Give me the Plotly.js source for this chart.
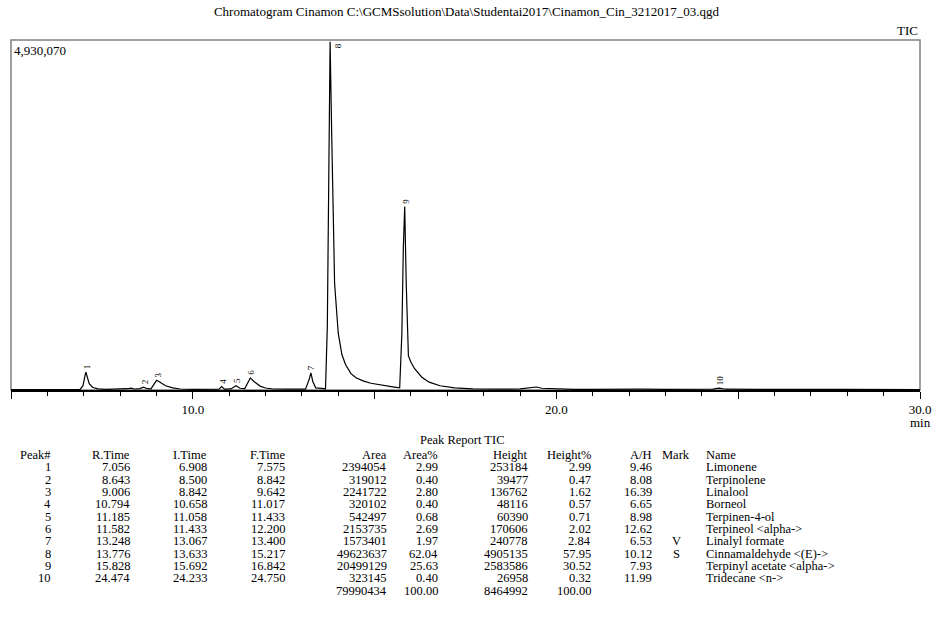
<!DOCTYPE html>
<html>
<head>
<meta charset="utf-8">
<script src="https://cdn.plot.ly/plotly-3.0.1.min.js"></script>
<style>
html,body{margin:0;padding:0;background:#fff;}
#chart{width:933px;height:624px;}
</style>
</head>
<body>
<div id="chart"></div>
<script>
// ---- Chromatogram trace ----
const traceTime = [5.0,5.5,6.0,6.5,6.9,6.98,7.03,7.056,7.09,7.15,7.25,7.4,7.6,8.0,8.1,8.2,8.3,8.4,8.55,8.643,8.75,8.85,8.93,9.006,9.1,9.25,9.45,9.65,10.0,10.5,10.72,10.794,10.87,11.05,11.185,11.3,11.43,11.52,11.582,11.68,11.85,12.0,12.2,12.6,13.1,13.2,13.248,13.3,13.38,13.55,13.65,13.7,13.74,13.776,13.82,13.9,14.0,14.1,14.2,14.35,14.5,14.7,14.9,15.2,15.5,15.69,15.75,15.79,15.828,15.87,15.93,16.0,16.1,16.3,16.5,16.8,17.2,17.7,18.0,18.5,19.0,19.3,19.45,19.6,19.9,20.5,21.0,21.4,22.0,22.15,22.3,23.0,23.6,24.0,24.3,24.474,24.65,25.5,26.5,26.7,27.05,27.2,28.0,28.5,29.5,30.0];
const traceIntensity = [6000,6000,7000,8000,9000,60000,200000,253184,200000,90000,35000,15000,10000,12000,22000,18000,25000,14000,20000,39477,18000,15000,80000,136762,110000,60000,30000,14000,10000,10000,12000,48116,12000,15000,60390,25000,20000,110000,170606,120000,55000,28000,14000,11000,12000,150000,240778,120000,30000,22000,15000,900000,3500000,4905135,3600000,1500000,800000,500000,360000,230000,170000,125000,95000,65000,45000,30000,800000,2000000,2583586,1500000,480000,390000,300000,180000,110000,60000,30000,15000,10000,12000,15000,30000,42000,25000,18000,10000,9000,10000,16000,22000,12000,10000,14000,11000,12000,26958,11000,9000,12000,16000,20000,10000,9000,11000,7000,7000];

// ---- Peak report table ----
const peakNo    = [1,2,3,4,5,6,7,8,9,10];
const rTime     = ["7.056","8.643","9.006","10.794","11.185","11.582","13.248","13.776","15.828","24.474"];
const iTime     = ["6.908","8.500","8.842","10.658","11.058","11.433","13.067","13.633","15.692","24.233"];
const fTime     = ["7.575","8.842","9.642","11.017","11.433","12.200","13.400","15.217","16.842","24.750"];
const area      = [2394054,319012,2241722,320102,542497,2153735,1573401,49623637,20499129,323145];
const areaPct   = ["2.99","0.40","2.80","0.40","0.68","2.69","1.97","62.04","25.63","0.40"];
const height    = [253184,39477,136762,48116,60390,170606,240778,4905135,2583586,26958];
const heightPct = ["2.99","0.47","1.62","0.57","0.71","2.02","2.84","57.95","30.52","0.32"];
const aOverH    = ["9.46","8.08","16.39","6.65","8.98","12.62","6.53","10.12","7.93","11.99"];
const mark      = ["","","","","","","V","S","",""];
const names     = ["Limonene","Terpinolene","Linalool","Borneol","Terpinen-4-ol","Terpineol <alpha->","Linalyl formate","Cinnamaldehyde <(E)->","Terpinyl acetate <alpha->","Tridecane <n->"];
const areaTotal = 79990434;
const areaPctTotal = "100.00";
const heightTotal = 8464992;
const heightPctTotal = "100.00";
const yMax = 4930070;

const xTickVals = [5,10,15,20,25,30];
const xTickText = ["","10.0","","20.0","","30.0"];

// ---- layout helpers ----
const W = 933, H = 624;
const M = {l:11, r:13, t:40, b:234};
const PW = W - M.l - M.r, PH = H - M.t - M.b;
const px = x => (x - M.l) / PW;
const py = y => (H - M.b - y) / PH;
const SERIF = "Liberation Serif, Times New Roman, serif";
const esc = s => String(s).replace(/&/g,"&amp;").replace(/</g,"&lt;").replace(/>/g,"&gt;");

const ann = [];
function txt(x, y, text, anchor, size){
  ann.push({xref:"paper", yref:"paper", x:px(x), y:py(y), text:esc(text),
    showarrow:false, xanchor:anchor||"right", yanchor:"middle", borderpad:0,
    font:{family:SERIF, size:size||12.5, color:"#000"}});
}

// peak labels on chromatogram
peakNo.forEach((p,i)=>{
  const t = parseFloat(rTime[i]);
  const top = height[i] > yMax*0.95;
  ann.push({xref:"x", yref:"y", x:t, y:Math.min(height[i], yMax), text:String(p),
    showarrow:false, textangle:-90,
    xanchor: top ? "left" : "center", yanchor: top ? "top" : "bottom",
    xshift: 1, yshift: top ? 0 : 1,
    font:{family:SERIF, size:9, color:"#000"}});
});

// top-left scale label, TIC, min
ann.push({xref:"paper", yref:"paper", x:0, y:1, xshift:1, yshift:-1, text:"4,930,070", showarrow:false,
  xanchor:"left", yanchor:"top", font:{family:SERIF, size:13, color:"#000"}});
ann.push({xref:"paper", yref:"paper", x:1, y:1, yshift:0, text:"TIC", showarrow:false,
  xanchor:"right", yanchor:"bottom", font:{family:SERIF, size:13, color:"#000"}});
ann.push({xref:"paper", yref:"paper", x:1, y:py(422), text:"min", showarrow:false,
  xanchor:"center", yanchor:"middle", font:{family:SERIF, size:13, color:"#000"}});

// table
txt(462, 440, "Peak Report TIC", "center");
const cols = [
  {x:52,  h:"Peak#",   v:peakNo,    a:"right"},
  {x:131, h:"R.Time",  v:rTime,     a:"right"},
  {x:208, h:"I.Time",  v:iTime,     a:"right"},
  {x:286, h:"F.Time",  v:fTime,     a:"right"},
  {x:388, h:"Area",    v:area,      a:"right", tot:areaTotal},
  {x:439, h:"Area%",   v:areaPct,   a:"right", tot:areaPctTotal},
  {x:529, h:"Height",  v:height,    a:"right", tot:heightTotal},
  {x:592, h:"Height%", v:heightPct, a:"right", tot:heightPctTotal},
  {x:653, h:"A/H",     v:aOverH,    a:"right"},
  {x:676, h:"Mark",    v:mark,      a:"center"},
  {x:705, h:"Name",    v:names,     a:"left"}
];
const rowY0 = 455, rowDy = 12.33;
cols.forEach(c=>{
  txt(c.x, rowY0, c.h, c.a);
  c.v.forEach((v,i)=>{ if(v!=="") txt(c.x, rowY0 + rowDy*(i+1), v, c.a); });
  if(c.tot!==undefined) txt(c.x, rowY0 + rowDy*(c.v.length+1), c.tot, c.a);
});

const data = [{
  type:"scatter", mode:"lines", x:traceTime, y:traceIntensity,
  line:{color:"#000", width:1.2}, hoverinfo:"skip", cliponaxis:true
}];

const layout = {
  width:W, height:H, margin:M,
  paper_bgcolor:"#fff", plot_bgcolor:"#fff",
  showlegend:false,
  title:{text:"Chromatogram Cinamon C:\\GCMSsolution\\Data\\Studentai2017\\Cinamon_Cin_3212017_03.qgd",
    x:0.5, xanchor:"center", y:1-11/H, yanchor:"middle",
    font:{family:SERIF, size:13, color:"#000"}},
  xaxis:{range:[5,30], showgrid:false, zeroline:false,
    showline:true, linecolor:"#000", linewidth:1.5,
    tickmode:"array", tickvals:xTickVals, ticktext:xTickText,
    ticks:"outside", ticklen:7, tickwidth:1, tickcolor:"#000",
    minor:{dtick:1, tick0:5, ticks:"outside", ticklen:4, tickcolor:"#000", tickwidth:1, showgrid:false},
    tickfont:{family:SERIF, size:13, color:"#000"}},
  yaxis:{range:[0,yMax], showgrid:false, zeroline:false, showticklabels:false,
    ticks:"", showline:false},
  shapes:[{type:"rect", xref:"paper", yref:"paper", x0:0, x1:1, y0:0, y1:1,
    line:{color:"#808080", width:1.5}, layer:"below"}],
  annotations:ann
};

Plotly.newPlot("chart", data, layout, {staticPlot:true, displayModeBar:false});
</script>
</body>
</html>
